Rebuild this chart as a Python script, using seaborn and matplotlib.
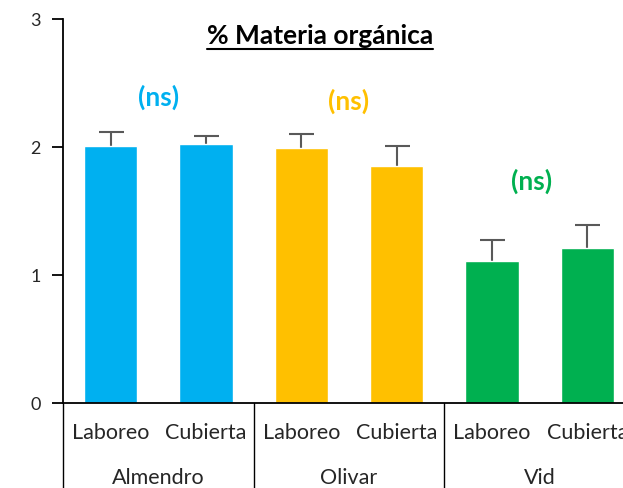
import numpy as np
import pandas as pd
import matplotlib
matplotlib.use("Agg")
import matplotlib.pyplot as plt
import matplotlib.transforms as mtransforms
from matplotlib.lines import Line2D
import seaborn as sns

# Data
cultivos = ["Almendro", "Olivar", "Vid"]
manejos = ["Laboreo", "Cubierta"]
valores = [2.01, 2.025, 1.99, 1.85, 1.11, 1.21]
errores = [0.11, 0.06, 0.11, 0.16, 0.16, 0.18]
colores_cultivo = ["#00B0F0", "#FFC000", "#00B050"]
signif = ["(ns)", "(ns)", "(ns)"]
signif_y = [2.39, 2.36, 1.73]

sns.set_style("white")
plt.rcParams["font.family"] = ["Lato", "DejaVu Sans"]

etiquetas = [f"{c}-{m}" for c in cultivos for m in manejos]
df = pd.DataFrame({
    "grupo": etiquetas,
    "valor": valores,
})
palette = {e: colores_cultivo[i // 2] for i, e in enumerate(etiquetas)}

fig = plt.figure(figsize=(6.23, 4.88), dpi=100)
ax = fig.add_axes([63 / 623, 1 - 403 / 488, 572 / 623, 384 / 488])

sns.barplot(data=df, x="grupo", y="valor", hue="grupo", palette=palette,
            legend=False, width=0.56, saturation=1, ax=ax, errorbar=None)
for p in ax.patches:
    p.set_zorder(2)

# error bars only upward: the part inside the bar is hidden behind it
pos = np.arange(len(valores))
ax.errorbar(pos, valores, yerr=errores, fmt="none",
            ecolor="#595959", elinewidth=1.5, capsize=9, capthick=1.5, zorder=1)

ax.set_xlim(-0.5, len(valores) - 0.5)
ax.set_ylim(0, 3)
ax.set_yticks([0, 1, 2, 3])
ax.set_yticklabels(["0", "1", "2", "3"], fontsize=13, color="#262626")
ax.tick_params(axis="y", direction="out", length=8, width=1.3, color="black", left=True, pad=8)
ax.set_xticks([])
ax.set_xlabel("")
ax.set_ylabel("")
sns.despine(ax=ax, top=True, right=True)
for s in ["left", "bottom"]:
    ax.spines[s].set_color("black")
    ax.spines[s].set_linewidth(1.3)
    ax.spines[s].set_zorder(3)

# Multi-level category labels
trans = mtransforms.blended_transform_factory(ax.transData, ax.transAxes)
for i, e in enumerate(etiquetas):
    ax.text(i, -0.078, manejos[i % 2], transform=trans, ha="center", va="center",
            fontsize=15.5, color="#262626", clip_on=False)
for g, c in enumerate(cultivos):
    ax.text(2 * g + 0.5, -0.195, c, transform=trans, ha="center", va="center",
            fontsize=15.5, color="#262626", clip_on=False)
for xs in [-0.5, 1.5, 3.5]:
    ax.add_line(Line2D([xs, xs], [0, -0.25], transform=trans, color="black",
                       lw=1.0, clip_on=False))

# significance labels
for g, c in enumerate(cultivos):
    ax.text(2 * g + 0.5 - (0.08 if g == 2 else 0), signif_y[g], signif[g],
            ha="center", va="center", fontsize=19, fontweight="bold",
            color=colores_cultivo[g])

# underlined title
titulo = fig.text(320 / 623, 1 - 36 / 488, "% Materia orgánica", ha="center",
                  va="center", fontsize=19, fontweight="bold", color="black")
fig.canvas.draw()
bb = titulo.get_window_extent()
y_line = bb.y0 - 1
fig.add_artist(Line2D([bb.x0 / 623, bb.x1 / 623], [y_line / 488, y_line / 488],
                      transform=fig.transFigure, color="black", lw=1.5))

fig.savefig("out.png", dpi=100)
